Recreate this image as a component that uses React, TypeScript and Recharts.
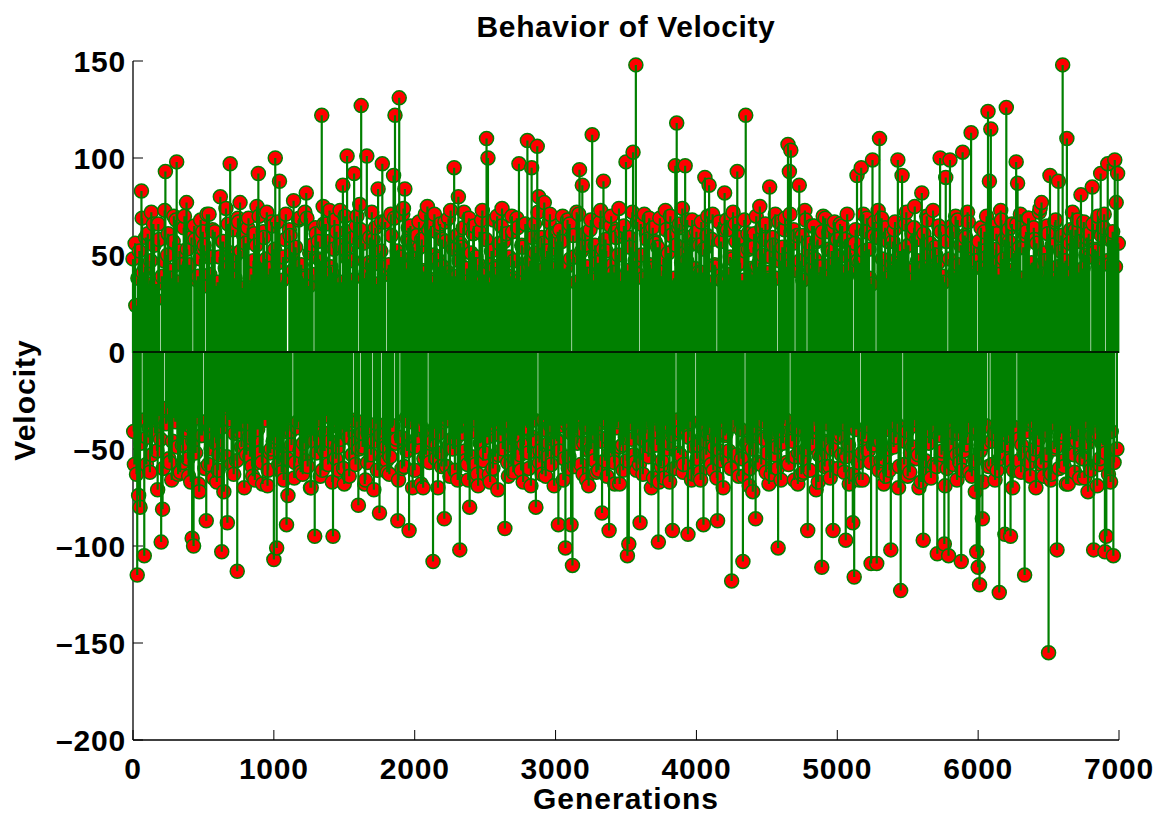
import {
  ComposedChart,
  Scatter,
  XAxis,
  YAxis
} from 'recharts'

// velocity sampled every 10 generations (0, 10, 20 ...), one array per 1000 generations
const gen0to990 = [
  48, -58, 24, -115, -74, -80, 83, 41, -105, 59,
  -44, 35, -62, 72, -38, 55, 27, -51, 66, -33,
  -98, -81, 47, 93, -29, 61, -57, 38, -46, 70,
  -36, 98, -63, 52, 31, -48, 64, -41, 77, -55,
  45, -67, -96, -100, 58, -34, 39, -72, 68, -43,
  53, -60, -87, 34, 71, -39, 49, -65, 62, -47,
  36, -53, 80, -103, 57, -31, 74, -88, 44, 97,
  -58, 63, -42, 50, -113, 67, 77, -49, 33, -70,
  56, -37, 69, -54, 40, -64, 61, -45, 75, 92,
  -52, 46, -68, 59, -35, 72, -61, 43, -50, 65
]
const gen1000to1990 = [
  -107, 100, -101, 46, 88, -52, 37, -66, 58, -89,
  -74, 63, -41, 51, 78, -57, 44, -36, 69, -62,
  39, -47, 72, 82, -59, 34, -70, 55, -43, -95,
  61, -38, 48, -64, 122, 75, -51, 66, -33, 57,
  -46, 41, -95, 68, -55, 36, -61, 73, -40, 86,
  -68, 53, 101, -44, 62, -35, 47, 92, -58, 70,
  -79, 76, 127, -49, 38, -66, 101, -42, 59, -53,
  45, -71, 64, -37, 84, -83, 52, 97, -48, 67,
  -56, 43, -63, 71, -39, 91, 122, -45, -87, 131,
  49, -60, 74, 84, -34, 58, -92, 65, -47, 54
]
const gen2000to2990 = [
  -61, 52, -44, 67, -38, 58, -70, 41, -53, 75,
  63, -47, 36, -108, 71, -55, 48, -42, 66, -59,
  44, -86, 57, -35, 69, -64, 39, -50, 95, -45,
  60, 80, -102, 54, -37, 72, -56, 43, -66, -80,
  51, -41, 65, -58, 37, -69, 62, -46, 73, -33,
  -52, 110, 100, -63, 45, -39, 68, -54, 40, -71,
  56, -43, 74, -36, -91, 61, -57, 49, -48, 70,
  -62, 38, -45, 64, 97, -53, 55, -67, 42, -38,
  109, -60, 47, 95, -44, 66, -80, 106, 80, -51,
  59, -35, 77, -64, 52, -47, 71, -58, 43, -69
]
const gen3000to3990 = [
  57, -46, -89, 63, -38, 70, -55, -101, 44, -60,
  66, -89, -110, 49, -42, 72, -35, 94, -58, 86,
  -47, 61, -66, 40, -51, 68, 112, -43, 55, -62,
  46, -37, 73, -83, 88, -56, 52, -44, -92, 65,
  -53, 41, -68, 59, -36, 74, -49, 62, -61, 39,
  98, -105, -99, 54, -45, 103, -57, 148, 67, -40,
  -88, 50, -63, 71, -42, 58, -54, 45, -70, 64,
  -37, 56, -48, -98, 69, -59, 42, -65, 73, -44,
  51, -67, 60, -92, 38, 96, 118, -52, 66, -41,
  74, -58, 96, 47, -94, 55, -36, 68, -63, 43
]
const gen4000to4990 = [
  62, -48, 55, -66, 41, -89, 90, -53, 70, 86,
  -39, 58, -61, 45, -44, -87, 67, -56, 37, -70,
  82, -42, 63, -51, 49, -118, 72, -38, 57, 93,
  -64, 46, -55, -108, 68, 122, -47, 53, -60, 40,
  -72, 61, -86, 44, -35, 75, -58, 50, -45, 66,
  -52, 38, 85, -63, 59, -41, 71, -49, -101, 47,
  -66, 54, -37, 69, -57, 107, 93, 104, -46, 63,
  -54, 42, -68, 86, -40, 60, -62, 73, -50, -92,
  56, -45, 65, -36, 48, -71, 58, -53, 44, -111,
  70, -59, 39, -47, 62, -65, 52, -92, 67, -43
]
const gen5000to5990 = [
  58, -44, 66, -53, 41, -62, -97, 71, -48, 55,
  -39, -88, -116, 63, 91, -57, 46, 95, -66, 52,
  -43, 69, -51, 38, -109, 99, 60, -45, -109, 73,
  110, -56, 48, -68, 64, -40, 57, -61, -102, 45,
  -49, 67, -37, 99, -59, -123, 91, 53, -46, 72,
  -64, 42, -52, 61, -38, 75, -55, 47, -70, 58,
  82, -97, 44, -63, 68, -47, 56, -41, 73, -58,
  50, -104, 65, 100, -53, 39, -99, 90, -60, -105,
  99, -48, 62, -42, 70, -66, 45, -57, -108, 103,
  -51, 59, -44, 67, -62, 113, -39, 54, -72, -103
]
const gen6000to6990 = [
  -111, -120, 64, -86, 52, -47, 70, 124, 88, 115,
  -58, 45, -66, 61, -39, -124, 73, -52, 48, -94,
  126, -43, 57, -95, 66, -61, 40, 98, 87, -56,
  71, -48, 54, -115, 62, -37, 69, -64, 46, -53,
  58, -70, 43, -45, 74, 77, -57, 51, -41, 65,
  -155, 91, -63, 39, -50, 68, -102, 88, -44, 60,
  148, -59, 47, 110, -68, 56, -38, 72, -53, 63,
  -46, 41, -65, 81, -55, 67, -36, 59, -72, 49,
  -61, 85, -102, 53, -42, 70, -58, 92, -47, 64,
  -103, -95, 97, 45, -67, 58, -105, 99, 77, 92
]

// the in-between samples (5, 15, 25 ...), all inside the dense band
const gen5to995 = [
  -41, 56, -63, 38, 52, -47, 69, -35, 44, -58,
  61, -39, 47, -53, 66, -42, 35, -71, 58, -45,
  39, -60, 73, -37, 50, -55, 42, -66, 57, -34,
  68, -49, 36, -62, 45, -57, 70, -40, 53, -64,
  -38, 59, -46, 65, -52, 37, -68, 48, -43, 62,
  55, -36, 71, -58, 40, -50, 63, -44, 34, -67,
  -61, 49, -39, 57, -72, 43, -54, 66, -35, 51,
  46, -63, 38, -56, 69, -41, 52, -37, 60, -48,
  -53, 64, -44, 36, -59, 47, -66, 55, -40, 70,
  41, -57, 62, -35, 48, -69, 39, -52, 67, -46
]
const gen1005to1995 = [
  53, -44, 67, -58, 36, -62, 49, -41, 71, -55,
  -37, 60, -48, 42, -65, 54, -39, 68, -51, 45,
  -63, 38, -56, 69, -43, 51, -70, 40, -46, 64,
  -52, 57, -35, 47, -61, 66, -42, 39, -58, 73,
  44, -67, 53, -38, 62, -49, 55, -45, 36, -60,
  70, -41, 48, -64, 37, -53, 59, -47, 65, -36,
  -50, 63, -42, 56, -68, 41, -57, 46, -39, 72,
  58, -46, 35, -61, 51, -43, 67, -55, 40, -49,
  -62, 45, -54, 60, -38, 69, -47, 52, -66, 37,
  -44, 71, -59, 43, -51, 64, -36, 57, -70, 48
]
const gen2005to2995 = [
  -49, 60, -37, 54, -68, 42, -55, 71, -43, 38,
  -57, 65, -46, 50, -39, 62, -70, 44, -52, 58,
  -36, 67, -59, 41, -48, 73, -45, 53, -61, 39,
  -66, 47, 56, -42, 64, -51, 37, -58, 69, -40,
  -54, 61, -35, 49, -63, 45, -47, 68, -56, 40,
  58, -44, 36, -67, 52, -60, 43, -38, 70, -53,
  -41, 65, -50, 57, -36, 48, -64, 39, -58, 62,
  47, -55, 69, -43, 37, -61, 54, -48, 66, -39,
  -52, 44, -69, 59, -35, 51, -46, 72, -57, 42,
  -63, 56, -40, 48, -54, 67, -38, 61, -45, 53
]
const gen3005to3995 = [
  -45, 62, -51, 39, 57, -66, 43, -37, 68, -54,
  48, -42, 60, -59, 36, -47, 71, -40, 52, -63,
  55, -38, 44, -69, 63, -50, 37, -56, 49, -43,
  -61, 67, -46, 53, -35, 58, -64, 41, -52, 70,
  45, -57, 62, -39, 50, -68, 36, -48, 65, -44,
  -56, 42, 59, -37, 72, -53, 47, -61, 40, -58,
  66, -45, 38, -52, 61, -36, 69, -49, 43, -65,
  57, -41, 54, -67, 39, -56, 48, -38, 63, -50,
  -47, 70, -43, 37, -60, 55, -35, 64, -53, 46,
  -62, 51, -40, 68, -44, 59, -66, 42, -49, 57
]
const gen4005to4995 = [
  -55, 41, -62, 67, -38, 53, -46, 60, -42, 36,
  -58, 71, -49, 44, -65, 39, -51, 57, -37, 63,
  -43, 68, -56, 40, -60, 48, -35, 66, -53, 45,
  59, -40, 37, -64, 52, -47, 61, -69, 43, -50,
  54, -39, 70, -57, 46, -44, 64, -36, 58, -62,
  41, -68, 49, -45, 55, -53, 38, -60, 67, -42,
  50, -47, 63, -35, 44, -58, 71, -41, 56, -66,
  -39, 60, -52, 47, -63, 37, -55, 68, -44, 52,
  -61, 43, -48, 65, -38, 57, -67, 40, -54, 62,
  -46, 69, -37, 53, -59, 45, -50, 64, -41, 58
]
const gen5005to5995 = [
  -60, 49, -43, 65, -37, 58, -54, 42, -68, 51,
  44, -63, 56, -40, 47, -66, 39, -52, 71, -45,
  62, -38, 53, -57, 35, -48, 67, -42, 59, -61,
  -46, 69, -55, 41, -64, 38, -50, 60, -36, 57,
  63, -44, 48, -70, 52, -39, 45, -58, 66, -41,
  55, -62, 37, -49, 64, -35, 58, -53, 43, -67,
  -47, 61, -56, 70, -40, 50, -65, 44, -38, 54,
  -59, 46, -43, 62, -51, 36, -69, 57, -45, 48,
  -37, 65, -58, 41, -53, 68, -42, 55, -61, 39,
  60, -48, 72, -36, 50, -64, 43, -56, 47, -40
]
const gen6005to6995 = [
  57, -51, 44, -67, 62, -38, 49, -59, 36, -46,
  65, -42, 53, -61, 40, -55, 68, -44, 58, -37,
  -48, 63, -56, 42, -70, 51, -39, 66, -45, 54,
  -62, 38, -52, 60, -41, 69, -57, 45, -36, 64,
  -50, 56, -43, 72, -58, 39, -64, 47, -53, 61,
  41, -66, 55, -37, 67, -49, 44, -60, 52, -42,
  -56, 46, -68, 39, -51, 63, -45, 58, -62, 37,
  68, -40, 57, -54, 43, -65, 50, -47, 61, -59,
  -43, 66, -38, 52, -69, 45, -55, 60, -48, 71,
  -52, 47, -63, 58, -41, 62, -57, 44, -50, 56
]

const xTicks = [0, 1000, 2000, 3000, 4000, 5000, 6000, 7000]
const yTicks = [-200, -150, -100, -50, 0, 50, 100, 150]
const xRange = [0, 7000]

const mainBlocks = [gen0to990, gen1000to1990, gen2000to2990, gen3000to3990, gen4000to4990, gen5000to5990, gen6000to6990]
const midBlocks = [gen5to995, gen1005to1995, gen2005to2995, gen3005to3995, gen4005to4995, gen5005to5995, gen6005to6995]

const toPoints = (blocks: number[][], start: number) =>
  blocks.flatMap((vals, b) => vals.map((v, i) => ({ gen: b * 1000 + start + i * 10, v })))

const points = [...toPoints(mainBlocks, 0), ...toPoints(midBlocks, 5)].sort((a, b) => a.gen - b.gen)

// stem path like matlab's stem(): baseline -> value -> baseline for every sample
const stemPath = points.flatMap((p) => [
  { gen: p.gen, v: 0 },
  { gen: p.gen, v: p.v },
  { gen: p.gen, v: 0 }
])

// black baseline at 0 over the whole x range
const baseline = xRange.map((g) => ({ gen: g, v: 0 }))

const GREEN = '#008000'
const RED = '#ff0000'
const FONT = '"Liberation Sans", Arial, Helvetica, sans-serif'

const fmt = (v: number) => (v < 0 ? '\u2013' + Math.abs(v) : String(v))

const tickStyle = { fill: '#000', fontSize: 30, fontWeight: 700, fontFamily: FONT, letterSpacing: 0.8 }
const axisLine = { stroke: '#000', strokeWidth: 1.3 }

function Marker(props: any) {
  const { cx, cy } = props
  return <circle cx={cx} cy={cy} r={7} fill={RED} stroke={GREEN} strokeWidth={1.5} />
}

function NoShape() {
  return <g />
}

const labelStyle = {
  position: 'absolute' as const,
  textAlign: 'center' as const,
  fontSize: 30,
  lineHeight: '32px',
  fontWeight: 700
}

export default function App() {
  return (
    <div
      style={{
        position: 'absolute',
        left: 0,
        top: 0,
        width: 1159,
        height: 821,
        background: '#fff',
        fontFamily: FONT
      }}
    >
      <ComposedChart width={1159} height={821} margin={{ top: 61, right: 40, bottom: 0, left: 0 }}>
        <XAxis
          xAxisId="b"
          dataKey="gen"
          type="number"
          domain={xRange}
          ticks={xTicks}
          interval={0}
          height={81}
          tickSize={-10}
          tickMargin={28}
          tick={tickStyle}
          tickFormatter={fmt}
          axisLine={axisLine}
          tickLine={{ stroke: '#000' }}
        />
        <XAxis
          xAxisId="t"
          orientation="top"
          type="number"
          domain={xRange}
          ticks={xTicks}
          interval={0}
          height={0}
          tickSize={-10}
          tick={false}
          axisLine={axisLine}
          tickLine={{ stroke: '#000' }}
        />
        <YAxis
          yAxisId="l"
          dataKey="v"
          type="number"
          domain={[-200, 150]}
          ticks={yTicks}
          interval={0}
          width={133}
          tickSize={-10}
          tickMargin={17}
          tick={tickStyle}
          tickFormatter={fmt}
          axisLine={axisLine}
          tickLine={{ stroke: '#000' }}
        />
        <YAxis
          yAxisId="r"
          orientation="right"
          type="number"
          domain={[-200, 150]}
          ticks={yTicks}
          interval={0}
          width={0}
          tickSize={-10}
          tick={false}
          axisLine={axisLine}
          tickLine={{ stroke: '#000' }}
        />
        <Scatter
          xAxisId="b"
          yAxisId="l"
          data={points}
          dataKey="v"
          shape={Marker}
          isAnimationActive={false}
        />
        <Scatter
          xAxisId="b"
          yAxisId="l"
          data={stemPath}
          dataKey="v"
          shape={NoShape}
          line={{ stroke: GREEN, strokeWidth: 2.2 }}
          lineType="joint"
          isAnimationActive={false}
        />
        <Scatter
          xAxisId="b"
          yAxisId="l"
          data={baseline}
          dataKey="v"
          shape={NoShape}
          line={{ stroke: '#000', strokeWidth: 1.5 }}
          lineType="joint"
          isAnimationActive={false}
        />
      </ComposedChart>

      <div style={{ ...labelStyle, left: 133, width: 986, top: 11, letterSpacing: 0.6 }}>
        Behavior of Velocity
      </div>
      <div style={{ ...labelStyle, left: 133, width: 986, top: 783, letterSpacing: 1 }}>
        Generations
      </div>
      <div
        style={{
          ...labelStyle,
          left: 25 - 150,
          top: 400 - 16,
          width: 300,
          height: 32,
          letterSpacing: 1,
          transform: 'rotate(-90deg)'
        }}
      >
        Velocity
      </div>
    </div>
  )
}
